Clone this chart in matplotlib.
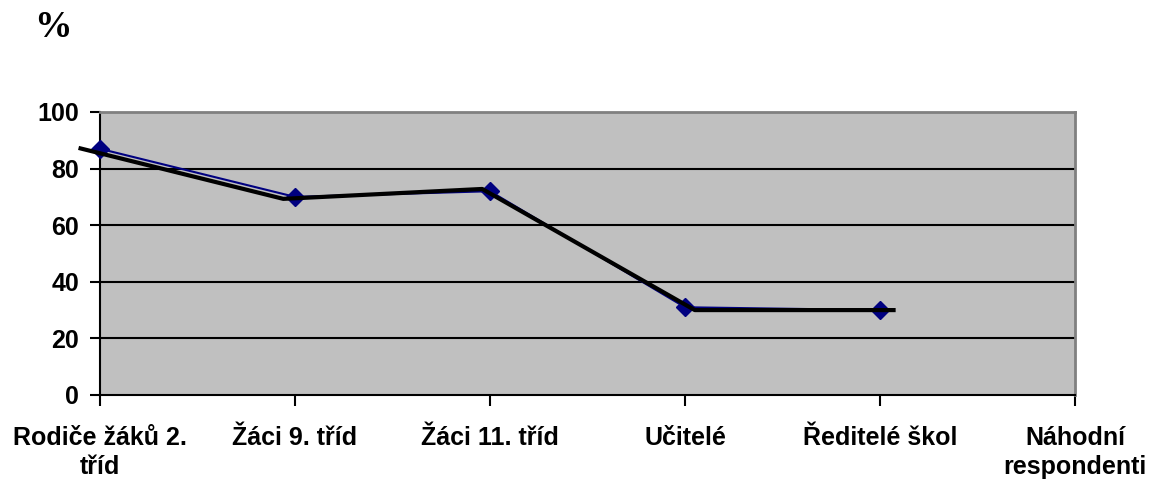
import matplotlib
matplotlib.use("Agg")
from matplotlib import pyplot as plt

# survey groups and share of answers in percent
categories = ["Rodiče žáků 2.\ntříd", "Žáci 9. tříd", "Žáci 11. tříd",
              "Učitelé", "Ředitelé škol", "Náhodní\nrespondenti"]
values = [87, 70, 72, 31, 30]

# hand-drawn trend overlay (x in category units)
trend_x = [-0.11, 0.94, 1.96, 3.05, 4.08]
trend_y = [87.3, 69.3, 72.8, 30.0, 30.0]

plt.rcParams["font.family"] = ["Liberation Sans", "DejaVu Sans"]

fig = plt.figure(figsize=(11.52, 4.79), dpi=100)
ax = fig.add_axes([0.0868, 0.1754, 0.8464, 0.5908])
ax.set_facecolor("#c0c0c0")

ax.set_xlim(0, len(categories) - 1)
ax.set_ylim(0, 100)

for y in [20, 40, 60, 80]:
    ax.axhline(y, color="black", linewidth=1.5, zorder=1)

ax.plot(range(len(values)), values, color="#000080", linewidth=1.5,
        marker="D", markersize=9, markerfacecolor="#000080",
        markeredgecolor="#000080", zorder=3, clip_on=False)
ax.plot(trend_x, trend_y, color="black", linewidth=3, zorder=4,
        solid_capstyle="butt", clip_on=False)

ax.set_xticks(range(len(categories)))
ax.set_xticklabels(categories, fontsize=18, fontweight="bold", linespacing=1.28)
ax.set_yticks([0, 20, 40, 60, 80, 100])
ax.set_yticklabels(["0", "20", "40", "60", "80", "100"], fontsize=18, fontweight="bold")
ax.tick_params(axis="x", direction="out", length=8, width=1.5, pad=14)
ax.tick_params(axis="y", direction="out", length=7, width=1.5, pad=8)

ax.spines["left"].set_color("black")
ax.spines["bottom"].set_color("black")
ax.spines["left"].set_linewidth(1.5)
ax.spines["bottom"].set_linewidth(1.5)
for side in ["top", "right"]:
    ax.spines[side].set_color("#808080")
    ax.spines[side].set_linewidth(2)

fig.text(0.030, 0.942, "%", fontsize=27, fontweight="bold",
         family=["Liberation Serif", "DejaVu Serif"], va="center")

fig.savefig("out.png", dpi=100)
plt.close(fig)
